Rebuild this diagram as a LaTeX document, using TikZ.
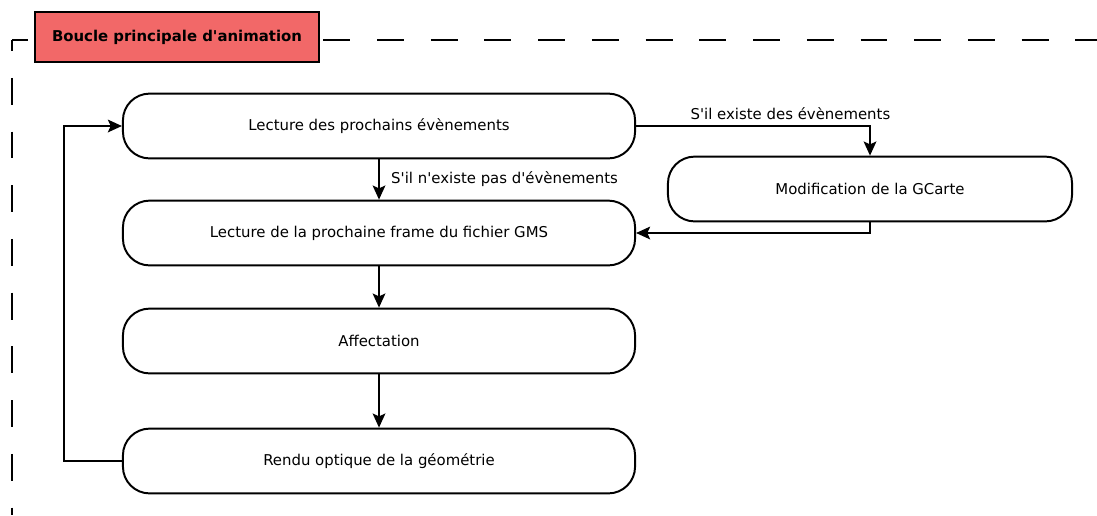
\documentclass[tikz,border=0pt]{standalone}
\usepackage{fontspec}
\setmainfont{DejaVu Sans}[Ligatures=TeXOff]
\usetikzlibrary{arrows.meta}
\definecolor{rougetitre}{RGB}{242,104,104}

\begin{document}
\begin{tikzpicture}[
    x=0.025cm, y=-0.025cm,
    font=\fontsize{10.6}{13}\selectfont,
    etape/.style={draw, line width=1.4pt, rounded corners=19pt,
                  minimum width=12.8cm, minimum height=1.62cm, align=center},
    titre/.style={draw, line width=1.4pt, fill=rougetitre,
                  minimum width=7.12cm, minimum height=1.25cm,
                  font=\fontsize{10.6}{13}\selectfont\bfseries},
    cadre/.style={line width=1.4pt, dash pattern=on 19.1pt off 19.1pt},
    fleche/.style={line width=1.4pt, -{Stealth[length=10pt,width=9pt,inset=2pt]}},
    cond/.style={inner sep=2pt}
  ]
    \useasboundingbox (0,0) rectangle (1097,515);

    %% --- Cadre de la boucle ---
    \coordinate (coin) at (12,40);
    \draw[cadre, dash phase=11.3pt] (coin) -- (12,515);
    \draw[cadre, dash phase=7.8pt] (coin) -- (1097,40);
    \node[titre] (boucle) at (177,37) {Boucle principale d'animation};

    %% --- Etapes ---
    \node[etape] (lecture) at (379,126) {Lecture des prochains évènements};
    \node[etape] (frame) at (379,233) {Lecture de la prochaine frame du fichier GMS};
    \node[etape] (affect) at (379,341) {Affectation};
    \node[etape] (rendu) at (379,461) {Rendu optique de la géométrie};
    \node[etape, minimum width=10.1cm] (gcarte) at (870,189) {Modification de la GCarte};

    %% --- Liens ---
    \draw[fleche] (lecture.east) -| node[cond, above, pos=0.33, yshift=2pt] {S'il existe des évènements}
      (gcarte.north);
    \draw[fleche] (gcarte.south) |- (frame.east);
    \draw[fleche] (lecture) -- node[cond, right, xshift=6pt] {S'il n'existe pas d'évènements}
      (frame);
    \draw[fleche] (frame) -- (affect);
    \draw[fleche] (affect) -- (rendu);
    \draw[fleche] (rendu.west) -- ++(-58,0) |- (lecture.west);
  \end{tikzpicture}
\end{document}
